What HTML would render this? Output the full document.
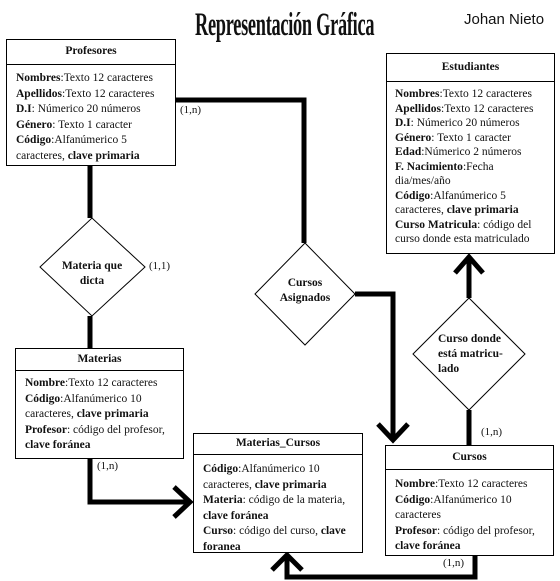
<!DOCTYPE html>
<html><head><meta charset="utf-8"><style>
body{margin:0;width:560px;height:581px;background:#fff;position:relative;overflow:hidden;font-family:"Liberation Serif",serif;color:#111}
.box{position:absolute;border:1px solid #000;background:#fff;box-sizing:border-box}
.h{border-bottom:1px solid #000;text-align:center;font-weight:bold;font-size:11.5px;box-sizing:border-box}
.c{font-size:11.5px;line-height:15.5px;padding:6px 0 0 9px;white-space:nowrap}
.lbl{position:absolute;font-size:11px}
.dt{position:absolute;font-weight:bold;font-size:11.5px;text-align:center;line-height:15px}
</style></head><body>
<svg width="560" height="581" style="position:absolute;left:0;top:0">
<g stroke="#000" fill="none" stroke-width="5">
<polyline points="175,100 304,100 304,243"/>
<polyline points="355,294 393,294 393,440"/>
<polyline points="378,424 393,440 408,424"/>
<line x1="90" y1="165" x2="90" y2="218"/>
<line x1="90" y1="316" x2="90" y2="349"/>
<polyline points="90,458 90,502 190,502"/>
<polyline points="174,487 190,502 174,517"/>
<line x1="469" y1="256" x2="469" y2="298"/>
<polyline points="455,273 469,257 483,273"/>
<line x1="469" y1="410" x2="469" y2="445"/>
<polyline points="475,556 475,577 287,577 287,555"/>
<polyline points="272,570 287,555 302,570"/>
</g>
<g stroke="#000" fill="#fff" stroke-width="1">
<polygon points="40,267 92,218 145,267 92,316"/>
<polygon points="255,294 305,243 355,294 305,345"/>
<polygon points="413,354 469,298 525,354 469,410"/>
</g>
</svg>
<div style="position:absolute;left:195px;top:7px;font-weight:bold;font-size:33px;white-space:nowrap;transform:scaleX(0.555);transform-origin:left top;letter-spacing:-0.5px">Representación Gráfica</div>
<div style="position:absolute;left:464px;top:11px;font-family:'Liberation Sans',sans-serif;font-size:15px">Johan Nieto</div>

<div class="box" style="left:6px;top:39px;width:170px;height:127px"><div class="h" style="height:25px;line-height:23px">Profesores</div>
<div class="c"><b>Nombres</b>:Texto 12 caracteres<br><b>Apellidos</b>:Texto 12 caracteres<br><b>D.I</b>: Númerico 20 números<br><b>Género</b>: Texto 1 caracter<br><b>Código</b>:Alfanúmerico 5<br>caracteres, <b>clave primaria</b></div></div>

<div class="box" style="left:386px;top:53px;width:169px;height:201px"><div class="h" style="height:28px;line-height:26px">Estudiantes</div>
<div class="c" style="padding-left:8px;padding-top:5px;line-height:14.5px"><b>Nombres</b>:Texto 12 caracteres<br><b>Apellidos</b>:Texto 12 caracteres<br><b>D.I</b>: Númerico 20 números<br><b>Género</b>: Texto 1 caracter<br><b>Edad</b>:Númerico 2 números<br><b>F. Nacimiento</b>:Fecha<br>dia/mes/año<br><b>Código</b>:Alfanúmerico 5<br>caracteres, <b>clave primaria</b><br><b>Curso Matricula</b>: código del<br>curso donde esta matriculado</div></div>

<div class="box" style="left:15px;top:348px;width:169px;height:111px"><div class="h" style="height:22px;line-height:20px">Materias</div>
<div class="c" style="padding-top:5px"><b>Nombre</b>:Texto 12 caracteres<br><b>Código</b>:Alfanúmerico 10<br>caracteres, <b>clave primaria</b><br><b>Profesor</b>: código del profesor,<br><b>clave foránea</b></div></div>

<div class="box" style="left:193px;top:433px;width:170px;height:120px"><div class="h" style="height:21px;line-height:19px">Materias_Cursos</div>
<div class="c" style="padding-top:7px"><b>Código</b>:Alfanúmerico 10<br>caracteres, <b>clave primaria</b><br><b>Materia</b>: código de la materia,<br><b>clave foránea</b><br><b>Curso</b>: código del curso, <b>clave</b><br><b>foranea</b></div></div>

<div class="box" style="left:385px;top:445px;width:169px;height:111px"><div class="h" style="height:24px;line-height:22px">Cursos</div>
<div class="c" style="padding-top:7px"><b>Nombre</b>:Texto 12 caracteres<br><b>Código</b>:Alfanúmerico 10<br>caracteres<br><b>Profesor</b>: código del profesor,<br><b>clave foránea</b></div></div>

<div class="dt" style="left:42px;top:259px;width:100px">Materia que<br>dicta</div>
<div class="dt" style="left:255px;top:276px;width:100px">Cursos<br>Asignados</div>
<div class="dt" style="left:438px;top:332px;width:80px;text-align:left">Curso donde<br>está matricu-<br>lado</div>

<div class="lbl" style="left:180px;top:104px">(1,n)</div>
<div class="lbl" style="left:149px;top:260px">(1,1)</div>
<div class="lbl" style="left:97px;top:460px">(1,n)</div>
<div class="lbl" style="left:481px;top:426px">(1,n)</div>
<div class="lbl" style="left:443px;top:557px">(1,n)</div>
</body></html>
